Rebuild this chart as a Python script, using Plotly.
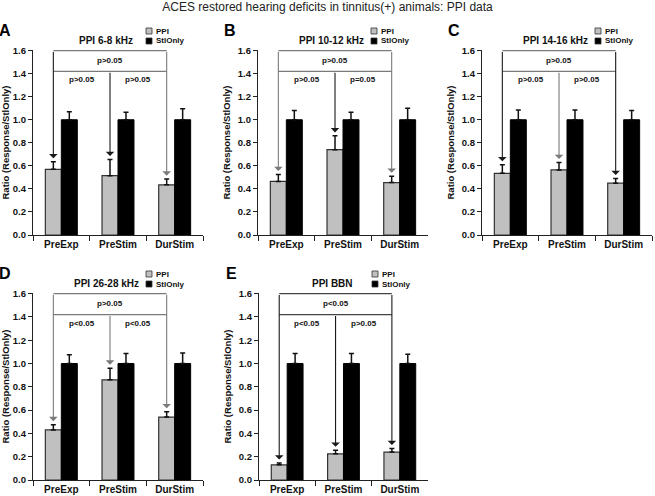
import plotly.graph_objects as go

W, H = 655, 496
FONT = "Liberation Sans, Arial, sans-serif"

categories = ["PreExp", "PreStim", "DurStim"]
panel_letters = ["A", "B", "C", "D", "E"]
panel_titles = ["PPI 6-8 kHz", "PPI 10-12 kHz", "PPI 14-16 kHz", "PPI 26-28 kHz", "PPI BBN"]

ppi_A = [0.57, 0.515, 0.435]
ppi_err_A = [0.065, 0.14, 0.05]
stl_A = [1.0, 1.0, 1.0]
stl_err_A = [0.07, 0.065, 0.095]

ppi_B = [0.465, 0.74, 0.455]
ppi_err_B = [0.06, 0.12, 0.055]
stl_B = [1.0, 1.0, 1.0]
stl_err_B = [0.08, 0.065, 0.10]

ppi_C = [0.535, 0.565, 0.45]
ppi_err_C = [0.075, 0.065, 0.04]
stl_C = [1.0, 1.0, 1.0]
stl_err_C = [0.085, 0.085, 0.08]

ppi_D = [0.43, 0.86, 0.54]
ppi_err_D = [0.045, 0.10, 0.045]
stl_D = [1.0, 1.0, 1.0]
stl_err_D = [0.075, 0.085, 0.09]

ppi_E = [0.13, 0.225, 0.24]
ppi_err_E = [0.015, 0.03, 0.03]
stl_E = [1.0, 1.0, 1.0]
stl_err_E = [0.085, 0.085, 0.08]

p_top = ["p>0.05", "p>0.05", "p>0.05", "p>0.05", "p<0.05"]
p_left = ["p>0.05", "p>0.05", "p>0.05", "p<0.05", "p<0.05"]
p_right = ["p>0.05", "p=0.05", "p>0.05", "p<0.05", "p>0.05"]

yticks = [0.0, 0.2, 0.4, 0.6, 0.8, 1.0, 1.2, 1.4, 1.6]

ppi_all = [ppi_A, ppi_B, ppi_C, ppi_D, ppi_E]
ppi_err_all = [ppi_err_A, ppi_err_B, ppi_err_C, ppi_err_D, ppi_err_E]
stl_all = [stl_A, stl_B, stl_C, stl_D, stl_E]
stl_err_all = [stl_err_A, stl_err_B, stl_err_C, stl_err_D, stl_err_E]

# layout: pixel boxes (x0, x1, ytop, ybottom) of each plot area
boxes = [(33, 203, 50, 235), (258, 428, 50, 235), (482, 652, 50, 235),
         (33, 203, 293, 480), (259, 428, 293, 480)]
DARK, GRAY = "#1a1a1a", "#7a7a7a"
arrow_cols = [(DARK, DARK, GRAY), (GRAY, DARK, GRAY), (DARK, GRAY, DARK),
              (GRAY, GRAY, GRAY), (DARK, DARK, DARK)]
box_cols = [GRAY, GRAY, GRAY, GRAY, "#444444"]

BARGAP = 0.436
half = (1 - BARGAP) / 4  # offset from category center to each bar center
YTOP = 1.6
YMID = 1.42

fig = go.Figure()
annotations = []
shapes = []

for i in range(5):
    sfx = "" if i == 0 else str(i + 1)
    xa, ya = "x" + sfx, "y" + sfx
    x0, x1, yt, yb = boxes[i]
    dom_x = [x0 / W, x1 / W]
    dom_y = [1 - yb / H, 1 - yt / H]
    fig.add_trace(go.Bar(
        x=categories, y=ppi_all[i], name="PPI", xaxis=xa, yaxis=ya,
        marker=dict(color="#c0c0c0", line=dict(color="#333333", width=1.2)),
        error_y=dict(type="data", array=ppi_err_all[i], arrayminus=[0, 0, 0],
                     symmetric=False, color="#111", thickness=1.5, width=2.5),
        showlegend=False, hoverinfo="skip"))
    fig.add_trace(go.Bar(
        x=categories, y=stl_all[i], name="StlOnly", xaxis=xa, yaxis=ya,
        marker=dict(color="#000000", line=dict(color="#000000", width=1)),
        error_y=dict(type="data", array=stl_err_all[i], arrayminus=[0, 0, 0],
                     symmetric=False, color="#111", thickness=1.5, width=2.5),
        showlegend=False, hoverinfo="skip"))
    fig.update_layout(**{
        ("xaxis" + sfx): dict(domain=dom_x, anchor=ya, type="category",
                              categoryorder="array", categoryarray=categories,
                              tickson="boundaries", ticks="outside", ticklen=5,
                              tickcolor="#222", showline=True, linecolor="#222",
                              linewidth=1.2, showgrid=False, zeroline=False,
                              automargin=False,
                              tickfont=dict(family=FONT, size=10, color="#111", weight="bold")),
        ("yaxis" + sfx): dict(domain=dom_y, anchor=xa, range=[0, 1.605],
                              tickvals=yticks, tickformat=".1f", ticks="outside",
                              ticklen=4, tickcolor="#222", showline=True,
                              linecolor="#222", linewidth=1.2, showgrid=False,
                              zeroline=False, automargin=False,
                              tickfont=dict(family=FONT, size=9.5, color="#111", weight="bold"),
                              title=dict(text="Ratio (Response/StlOnly)", standoff=5,
                                         font=dict(family=FONT, size=9.5, color="#111", weight="bold"))),
    })

    # bracket
    xl = 0 - half
    xm = 1 - half
    xr = 2 - half
    bc = box_cols[i]
    for (sx0, sy0, sx1, sy1) in [(xl, YTOP, xr, YTOP), (xl, YMID, xr, YMID)]:
        shapes.append(dict(type="line", xref=xa, yref=ya, x0=sx0, y0=sy0,
                           x1=sx1, y1=sy1, line=dict(color=bc, width=1.2)))
    tips = [ppi_all[i][k] + ppi_err_all[i][k] + 0.03 for k in range(3)]
    starts = [YTOP, YMID, YTOP]
    for k, xc in enumerate([xl, xm, xr]):
        annotations.append(dict(x=xc, y=tips[k], ax=xc, ay=starts[k], xref=xa, yref=ya,
                                axref=xa, ayref=ya, text="", showarrow=True,
                                arrowhead=1, arrowsize=1.3, arrowwidth=1.1,
                                arrowcolor=arrow_cols[i][k], standoff=0, startstandoff=0))
    pfont = dict(family=FONT, size=8, color="#111", weight="bold")
    annotations.append(dict(x=(xl + xr) / 2, y=1.515, xref=xa, yref=ya, text=p_top[i],
                            showarrow=False, font=pfont, xanchor="center"))
    annotations.append(dict(x=(xl + xm) / 2, y=1.345, xref=xa, yref=ya, text=p_left[i],
                            showarrow=False, font=pfont, xanchor="center"))
    annotations.append(dict(x=(xm + xr) / 2, y=1.345, xref=xa, yref=ya, text=p_right[i],
                            showarrow=False, font=pfont, xanchor="center"))

    # panel letter and title
    annotations.append(dict(x=(x0 - 28) / W, y=1 - (yt - 20) / H, xref="paper", yref="paper",
                            text=panel_letters[i], showarrow=False, xanchor="center",
                            yanchor="middle",
                            font=dict(family=FONT, size=16, color="#000", weight="bold")))
    annotations.append(dict(x=(x0 + 73) / W, y=1 - (yt - 10) / H, xref="paper", yref="paper",
                            text=panel_titles[i], showarrow=False, xanchor="center",
                            yanchor="middle",
                            font=dict(family=FONT, size=10, color="#111", weight="bold")))
    # legend
    lx = x0 + 113
    for j, (lab, col) in enumerate([("PPI", "#c0c0c0"), ("StlOnly", "#000000")]):
        cy = yt - 19 + 10 * j
        shapes.append(dict(type="rect", xref="paper", yref="paper",
                           x0=lx / W, x1=(lx + 6) / W, y0=1 - (cy + 3) / H, y1=1 - (cy - 3) / H,
                           fillcolor=col, line=dict(color="#333", width=0.8)))
        annotations.append(dict(x=(lx + 8) / W, y=1 - cy / H, xref="paper", yref="paper",
                                text=lab, showarrow=False, xanchor="left", yanchor="middle",
                                font=dict(family=FONT, size=8, color="#111", weight="bold")))

fig.update_layout(
    width=W, height=H, margin=dict(l=0, r=0, t=0, b=0, autoexpand=False),
    paper_bgcolor="white", plot_bgcolor="white",
    barmode="group", bargap=BARGAP, bargroupgap=0,
    title=dict(text="ACES restored hearing deficits in tinnitus(+) animals: PPI data",
               x=0.5, xanchor="center", y=1 - 7 / H, yanchor="middle",
               font=dict(family=FONT, size=12, color="#222")),
    annotations=annotations, shapes=shapes,
)

fig.write_html("out.html", config={"displayModeBar": False},
               post_script="document.body.style.margin='0';document.body.style.overflow='hidden';")
